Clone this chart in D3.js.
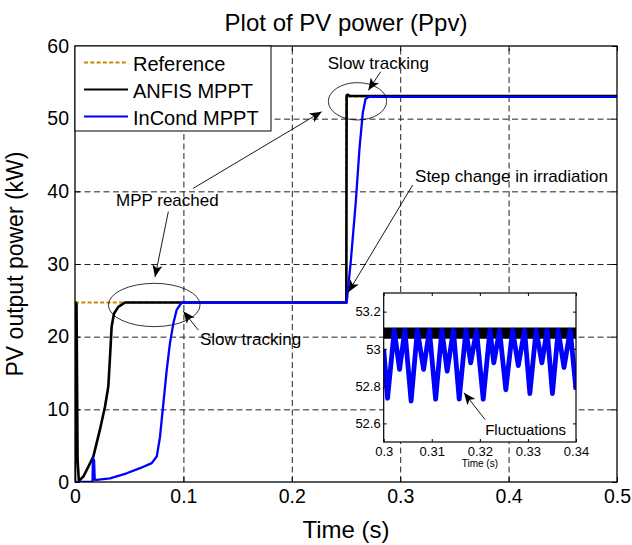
<!DOCTYPE html>
<head>
  <meta charset="utf-8">
  <style>
    body { margin: 0; background: #fff; }
    svg text { font-family: 'Liberation Sans', Arial, sans-serif; fill: black; }
    .axis text { font-size: 19.5px; }
    .inset-axis text { font-size: 13px; }
    .grid line { stroke: #222; stroke-width: 1; stroke-dasharray: 6,3.5; }
    .annot { font-size: 17px; }
  </style>
</head>

<body>
  <script src="https://cdn.jsdelivr.net/npm/d3@7"></script>
  <script>
    // ---- data ----
    const xTicks = [0, 0.1, 0.2, 0.3, 0.4, 0.5];
    const yTicks = [0, 10, 20, 30, 40, 50, 60];

    // reference (MPP) power
    const refTime  = [0, 0.25, 0.25, 0.5];
    const refPower = [24.7, 24.7, 53.05, 53.05];

    // ANFIS MPPT
    const anfisTime  = [0, 0.0005, 0.0014, 0.0024, 0.0035, 0.0046, 0.0077, 0.0108, 0.0169, 0.023, 0.0277, 0.0307,
                        0.0323, 0.0338, 0.036, 0.04, 0.0461, 0.2503, 0.2506, 0.2515, 0.2535, 0.5];
    const anfisPower = [0, 24.7, 24.5, 3, 0.3, 0.3, 0.75, 1.65, 3.5, 7.2, 10.4, 13.1,
                        17.2, 21.4, 23.2, 24.1, 24.7, 24.7, 53.2, 53.3, 53.12, 53.1];

    // InCond MPPT
    const incTime  = [0, 0.0162, 0.0165, 0.0176, 0.0182, 0.02, 0.0323, 0.0477, 0.06, 0.0708, 0.0754, 0.0784,
                      0.0815, 0.0846, 0.0876, 0.0907, 0.0938, 0.0984, 0.2506, 0.2545, 0.259, 0.2625, 0.2655,
                      0.268, 0.271, 0.5];
    const incPower = [0, 0, 3.3, 3.0, 0.3, 0.3, 0.5, 1.2, 1.9, 2.6, 3.5, 6.2,
                      10.8, 15.4, 19.1, 21.8, 23.7, 24.7, 24.7, 30.5, 38.5, 46, 50.8,
                      52.7, 53.0, 53.0];

    // inset (zoom 0.30 - 0.34 s)
    const insetXTicks = [0.3, 0.31, 0.32, 0.33, 0.34];
    const insetYTicks = [52.6, 52.8, 53, 53.2];
    const anfisBandLow = 53.055, anfisBandHigh = 53.115;
    const insetTime = [0.3, 0.3008, 0.3022, 0.3033, 0.3044, 0.3057, 0.307, 0.3083, 0.3095, 0.3108, 0.3121, 0.3132,
                       0.3145, 0.3157, 0.3171, 0.3181, 0.3193, 0.3207, 0.3221, 0.3229, 0.3241, 0.3254, 0.3268,
                       0.328, 0.3293, 0.3304, 0.3317, 0.3329, 0.334, 0.3351, 0.3363, 0.3375, 0.3388, 0.34];
    const insetInc  = [53.0, 52.735, 53.1, 52.89, 53.1, 52.72, 53.1, 52.89, 53.1, 52.73, 53.1, 52.88,
                       53.1, 52.73, 53.1, 52.925, 53.1, 52.73, 53.1, 52.925, 53.1, 52.78, 53.1,
                       52.91, 53.1, 52.76, 53.1, 52.925, 53.1, 52.76, 53.1, 52.9, 53.1, 52.78];

    // annotations (data coordinates)
    const ellipses = [
      { t: 0.0731, p: 24.36, rt: 0.0423, rp: 2.98 },
      { t: 0.2606, p: 52.39, rt: 0.0269, rp: 2.57 }
    ];
    const arrows = [
      { from: [0.1089, 40.4], to: [0.2276, 50.96] },
      { from: [0.0861, 37.2], to: [0.0738, 28.2] },
      { from: [0.1138, 20.9], to: [0.0999, 23.5] },
      { from: [0.282, 56.46], to: [0.2706, 53.9] },
      { from: [0.3115, 40.87], to: [0.2521, 26.1] }
    ];
    const labels = [
      { text: "MPP reached", t: 0.0378, p: 37.98 },
      { text: "Slow tracking", t: 0.1153, p: 18.92 },
      { text: "Slow tracking", t: 0.2332, p: 56.9 },
      { text: "Step change in irradiation", t: 0.3137, p: 41.35 }
    ];

    // ---- layout ----
    const width = 632, height = 545;
    const margin = {top: 46, right: 15, bottom: 63, left: 75};
    const innerWidth = width - margin.left - margin.right;
    const innerHeight = height - margin.top - margin.bottom;

    const svg = d3.select("body").append("svg")
      .attr("width", width).attr("height", height);

    svg.append("defs").append("marker")
      .attr("id", "head")
      .attr("markerUnits", "userSpaceOnUse")
      .attr("viewBox", "-13 -6 14 12")
      .attr("markerWidth", 14).attr("markerHeight", 12)
      .attr("refX", 0).attr("refY", 0)
      .attr("orient", "auto")
      .append("path").attr("d", "M0,0L-12,-5L-9,0L-12,5Z").attr("fill", "black");

    svg.select("defs").append("clipPath").attr("id", "plotclip")
      .append("rect").attr("width", innerWidth).attr("height", innerHeight);

    const g = svg.append("g")
      .attr("transform", "translate(" + margin.left + "," + margin.top + ")");

    const x = d3.scaleLinear().domain([0, 0.5]).range([0, innerWidth]);
    const y = d3.scaleLinear().domain([0, 60]).range([innerHeight, 0]);

    // tick-only axes: drop the domain path and the empty labels
    const bare = a => { a.select(".domain").remove(); a.selectAll("text").remove(); };

    // grid
    g.append("g").attr("class", "grid")
      .attr("transform", "translate(0," + innerHeight + ")")
      .call(d3.axisBottom(x).tickValues(xTicks.slice(1, -1)).tickSize(-innerHeight))
      .call(bare);
    g.append("g").attr("class", "grid")
      .call(d3.axisLeft(y).tickValues(yTicks.slice(1, -1)).tickSize(-innerWidth))
      .call(bare);

    // axes (inner ticks, box)
    g.append("g").attr("class", "axis")
      .attr("transform", "translate(0," + innerHeight + ")")
      .call(d3.axisBottom(x).tickValues(xTicks).tickSizeInner(-5).tickSizeOuter(0).tickPadding(7)
        .tickFormat(d3.format("~g")))
      .call(a => a.select(".domain").remove());
    g.append("g").attr("class", "axis")
      .call(d3.axisLeft(y).tickValues(yTicks).tickSizeInner(-5).tickSizeOuter(0).tickPadding(6))
      .call(a => a.select(".domain").remove());
    g.append("g").attr("class", "axis")
      .call(d3.axisTop(x).tickValues(xTicks).tickSizeInner(-5).tickSizeOuter(0))
      .call(bare);
    g.append("g").attr("class", "axis")
      .attr("transform", "translate(" + innerWidth + ",0)")
      .call(d3.axisRight(y).tickValues(yTicks).tickSizeInner(-5).tickSizeOuter(0))
      .call(bare);

    // curves
    const line = d3.line().x(d => x(d[0])).y(d => y(d[1]));
    const curves = g.append("g").attr("clip-path", "url(#plotclip)");
    curves.append("path").datum(d3.zip(refTime, refPower))
      .attr("d", line).attr("fill", "none")
      .attr("stroke", "#cc8800").attr("stroke-width", 2).attr("stroke-dasharray", "4,2.3");
    curves.append("path").datum(d3.zip(anfisTime, anfisPower))
      .attr("d", line).attr("fill", "none")
      .attr("stroke", "black").attr("stroke-width", 2.6).attr("stroke-linejoin", "round");
    curves.append("path").datum(d3.zip(incTime, incPower))
      .attr("d", line).attr("fill", "none")
      .attr("stroke", "#0000ff").attr("stroke-width", 2.3).attr("stroke-linejoin", "round");

    g.append("rect").attr("width", innerWidth).attr("height", innerHeight)
      .attr("fill", "none").attr("stroke", "black").attr("stroke-width", 1.3);

    // annotations
    g.selectAll(".ell").data(ellipses).enter().append("ellipse")
      .attr("cx", d => x(d.t)).attr("cy", d => y(d.p))
      .attr("rx", d => x(d.rt) - x(0)).attr("ry", d => y(0) - y(d.rp))
      .attr("fill", "none").attr("stroke", "black").attr("stroke-width", 0.8);
    g.selectAll(".arr").data(arrows).enter().append("line")
      .attr("x1", d => x(d.from[0])).attr("y1", d => y(d.from[1]))
      .attr("x2", d => x(d.to[0])).attr("y2", d => y(d.to[1]))
      .attr("stroke", "black").attr("stroke-width", 0.9).attr("marker-end", "url(#head)");
    g.selectAll(".lbl").data(labels).enter().append("text")
      .attr("class", "annot")
      .attr("x", d => x(d.t)).attr("y", d => y(d.p))
      .text(d => d.text);

    // ---- inset ----
    const ix0 = 308.7, iy0 = 247, iw = 192.3, ih = 149;
    const inset = g.append("g").attr("transform", "translate(" + ix0 + "," + iy0 + ")");
    const xi = d3.scaleLinear().domain([0.3, 0.34]).range([0, iw]);
    const yi = d3.scaleLinear().domain([52.5, 53.3]).range([ih, 0]);
    svg.select("defs").append("clipPath").attr("id", "insetclip")
      .append("rect").attr("width", iw).attr("height", ih);

    inset.append("rect").attr("width", iw).attr("height", ih).attr("fill", "white");
    const icurves = inset.append("g").attr("clip-path", "url(#insetclip)");
    icurves.append("path").datum(xi.domain())
      .attr("d", d3.area().x(d => xi(d)).y0(yi(anfisBandLow)).y1(yi(anfisBandHigh)))
      .attr("fill", "black");
    icurves.append("path").datum(d3.zip(insetTime, insetInc))
      .attr("d", d3.line().x(d => xi(d[0])).y(d => yi(d[1])))
      .attr("fill", "none").attr("stroke", "#0000ff").attr("stroke-width", 4.8).attr("stroke-linejoin", "round");

    inset.append("g").attr("class", "inset-axis")
      .attr("transform", "translate(0," + ih + ")")
      .call(d3.axisBottom(xi).tickValues(insetXTicks).tickSizeInner(-3).tickSizeOuter(0).tickPadding(5)
        .tickFormat(d3.format("~g")))
      .call(a => a.select(".domain").remove());
    inset.append("g").attr("class", "inset-axis")
      .call(d3.axisLeft(yi).tickValues(insetYTicks).tickSizeInner(-3).tickSizeOuter(0).tickPadding(3)
        .tickFormat(d3.format("~g")))
      .call(a => a.select(".domain").remove());
    inset.append("g").attr("class", "inset-axis")
      .call(d3.axisTop(xi).tickValues(insetXTicks).tickSizeInner(-3).tickSizeOuter(0))
      .call(bare);
    inset.append("g").attr("class", "inset-axis")
      .attr("transform", "translate(" + iw + ",0)")
      .call(d3.axisRight(yi).tickValues(insetYTicks).tickSizeInner(-3).tickSizeOuter(0))
      .call(bare);
    inset.append("rect").attr("width", iw).attr("height", ih)
      .attr("fill", "none").attr("stroke", "black").attr("stroke-width", 1.2);
    inset.append("text").attr("x", iw / 2).attr("y", ih + 25)
      .attr("text-anchor", "middle").style("font-size", "10px").text("Time (s)");

    inset.append("line")
      .attr("x1", xi(0.3211)).attr("y1", yi(52.62)).attr("x2", xi(0.3167)).attr("y2", yi(52.765))
      .attr("stroke", "black").attr("stroke-width", 0.9).attr("marker-end", "url(#head)");
    inset.append("text").attr("x", xi(0.3211)).attr("y", yi(52.54))
      .style("font-size", "15px").text("Fluctuations");

    // ---- legend ----
    const legendItems = [
      { name: "Reference", color: "#cc8800", dash: "4,2.3", w: 2 },
      { name: "ANFIS MPPT", color: "black", dash: null, w: 2 },
      { name: "InCond MPPT", color: "#0000ff", dash: null, w: 2 }
    ];
    const legend = g.append("g");
    legend.append("rect").attr("width", 196).attr("height", 85)
      .attr("fill", "white").attr("stroke", "black").attr("stroke-width", 1);
    const li = legend.selectAll(".li").data(legendItems).enter().append("g")
      .attr("transform", (d, i) => "translate(0," + (16.5 + i * 27) + ")");
    li.append("line").attr("x1", 9).attr("x2", 53)
      .attr("stroke", d => d.color).attr("stroke-width", d => d.w)
      .attr("stroke-dasharray", d => d.dash);
    li.append("text").attr("x", 58).attr("y", 8.5).style("font-size", "20px").text(d => d.name);

    // titles
    svg.append("text").attr("x", margin.left + innerWidth / 2).attr("y", 31)
      .attr("text-anchor", "middle").style("font-size", "24px").text("Plot of PV power (Ppv)");
    svg.append("text").attr("x", margin.left + innerWidth / 2).attr("y", 538)
      .attr("text-anchor", "middle").style("font-size", "24px").text("Time (s)");
    svg.append("text").attr("transform", "translate(23," + (margin.top + innerHeight / 2) + ") rotate(-90)")
      .attr("text-anchor", "middle").style("font-size", "23px").text("PV output power (kW)");
  </script>
</body>
